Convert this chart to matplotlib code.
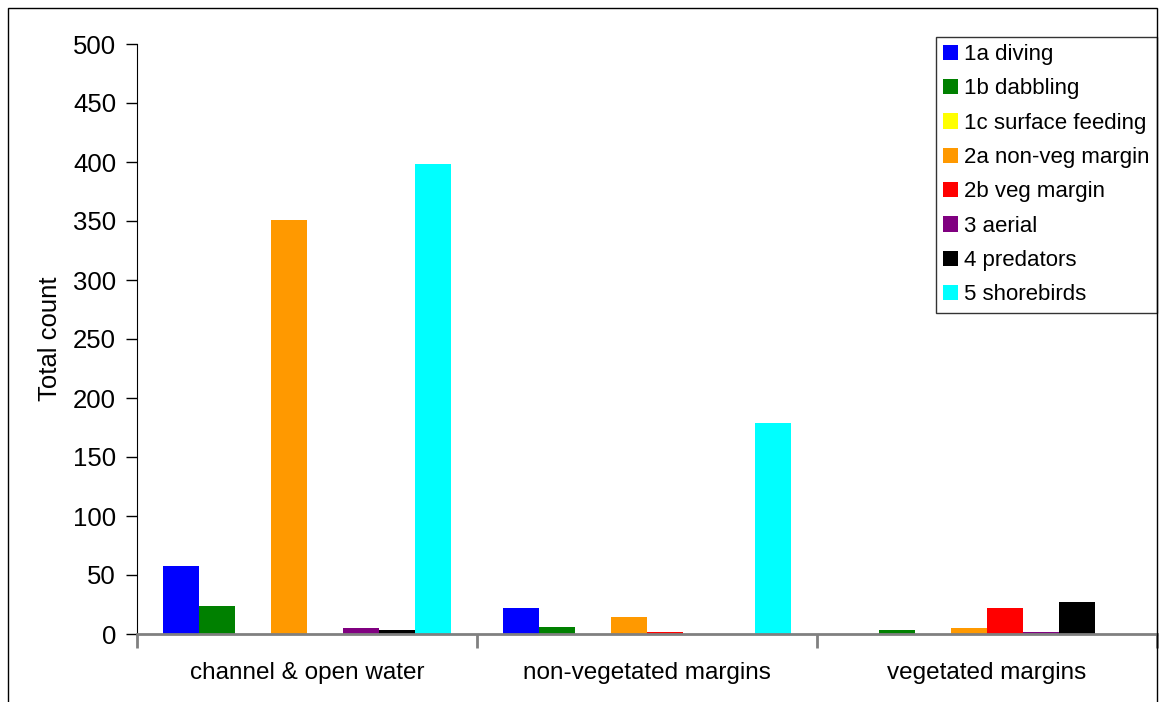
import matplotlib
matplotlib.use("Agg")
import matplotlib.pyplot as plt
from matplotlib.patches import Rectangle
import numpy as np

plt.rcParams['font.family'] = ['Liberation Sans', 'DejaVu Sans']

categories = ["channel & open water", "non-vegetated margins", "vegetated margins"]
series = ["1a diving", "1b dabbling", "1c surface feeding", "2a non-veg margin",
          "2b veg margin", "3 aerial", "4 predators", "5 shorebirds"]
colors = ["#0000FF", "#008000", "#FFFF00", "#FF9900", "#FF0000", "#800080", "#000000", "#00FFFF"]

diving = [58, 22, 0]
dabbling = [24, 6, 3]
surface = [0, 0, 0]
nonveg = [351, 14, 5]
veg = [0, 2, 22]
aerial = [5, 0, 2]
predators = [3, 0, 27]
shorebirds = [398, 179, 0]
values = [diving, dabbling, surface, nonveg, veg, aerial, predators, shorebirds]

W, H = 1159, 702
fig = plt.figure(figsize=(W/100, H/100), dpi=100)
ax = fig.add_axes([137/W, 1-634/H, (1157-137)/W, (634-44)/H])

bw = 36/340
start = 26/340
x = np.arange(len(categories))
for i, (name, vals, c) in enumerate(zip(series, values, colors)):
    ax.bar(x + start + i*bw, vals, width=bw, align='edge', color=c, label=name, linewidth=0)

ax.set_xlim(0, 3)
ax.set_ylim(0, 500)
ax.set_yticks(np.arange(0, 501, 50))
ax.set_xticks([0, 1, 2, 3])
ax.set_xticklabels([])
ax.set_xticks(x + 0.5, minor=True)
ax.set_xticklabels(categories, minor=True, fontsize=17.5)
ax.tick_params(axis='x', which='minor', length=0, pad=20)
ax.tick_params(axis='x', which='major', length=10, direction='out', color='#808080', width=2)
ax.tick_params(axis='y', length=8, direction='out', labelsize=18.5, pad=7, width=1)
for s in ['top', 'right']:
    ax.spines[s].set_visible(False)
ax.spines['bottom'].set_color('#808080')
ax.spines['bottom'].set_linewidth(2)
ax.spines['left'].set_color('black')
ax.set_ylabel("Total count", fontsize=18.5, labelpad=8)

leg = ax.legend(loc='upper right', bbox_to_anchor=(1157/W, 1-37/H), bbox_transform=fig.transFigure,
                fontsize=16, frameon=True, fancybox=False, edgecolor='black',
                handlelength=0.7, handleheight=0.7, handletextpad=0.28, labelspacing=0.6,
                borderpad=0.32, borderaxespad=0)
leg.get_frame().set_linewidth(1)

fig.patches.append(Rectangle((8/W, -0.05), (1157-8)/W, 1-8/H+0.05, transform=fig.transFigure,
                             fill=False, edgecolor='black', linewidth=1))

fig.savefig("out.png", dpi=100)
